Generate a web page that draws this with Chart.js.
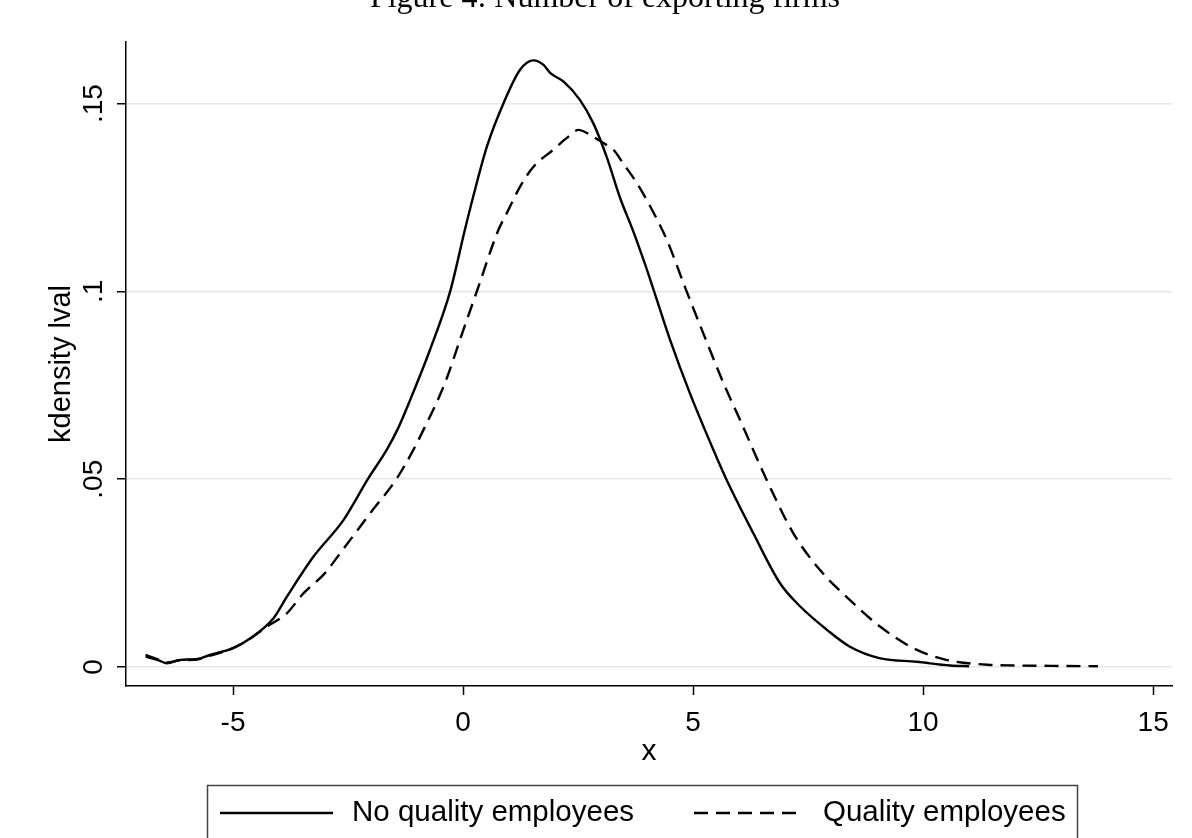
<!DOCTYPE html>
<html>
<head>
<meta charset="utf-8">
<title>Figure 4: Number of exporting firms</title>
<script src="https://cdn.jsdelivr.net/npm/chart.js@4/dist/chart.umd.min.js"></script>
<style>
  html, body { margin: 0; padding: 0; background: #fff; }
  canvas { display: block; }
</style>
</head>
<body>
<canvas id="kdensityChart" width="1192" height="838"></canvas>
<script>
/**
 * Kernel density of lval, firms with / without quality employees
 */

// Series: no quality employees (solid)
const xNoQuality = [-6.9, -6.6, -6.44, -6.15, -5.79, -5.5, -5.2, -5.0, -4.63, -4.12, -3.83, -3.25, -2.6, -2.06, -1.66, -1.41, -1.15, -0.72, -0.28, 0.04, 0.22, 0.52, 0.88, 1.24, 1.53, 1.75, 1.9, 2.18, 2.54, 2.83, 3.12, 3.41, 3.7, 3.92, 4.14, 4.5, 4.93, 5.41, 5.73, 6.31, 6.89, 7.33, 7.91, 8.41, 9.07, 9.86, 10.59, 11.0];
const yNoQuality = [0.0028, 0.0017, 0.0010, 0.0019, 0.0021, 0.0032, 0.0042, 0.0050, 0.0076, 0.0130, 0.0187, 0.0294, 0.0391, 0.0502, 0.0578, 0.0636, 0.0711, 0.0844, 0.1000, 0.1164, 0.1252, 0.1386, 0.1501, 0.1590, 0.1615, 0.1603, 0.1581, 0.1559, 0.1510, 0.1448, 0.1359, 0.1250, 0.1160, 0.1085, 0.1005, 0.0871, 0.0729, 0.0587, 0.0498, 0.0356, 0.0223, 0.0161, 0.0099, 0.0054, 0.0023, 0.0014, 0.0004, 0.0002];

// Series: quality employees (dashed)
const xQuality = [-6.9, -6.6, -6.44, -6.15, -5.79, -5.5, -5.0, -4.63, -4.27, -3.83, -3.47, -3.0, -2.67, -2.02, -1.44, -1.08, -0.79, -0.57, -0.35, -0.07, 0.3, 0.77, 0.95, 1.24, 1.53, 1.96, 2.25, 2.51, 2.76, 3.05, 3.27, 3.48, 3.78, 4.03, 4.43, 4.86, 5.22, 5.66, 6.02, 6.6, 7.18, 7.76, 8.41, 9.07, 9.79, 10.5, 11.4, 12.0, 12.8, 13.8];
const yQuality = [0.0032, 0.0019, 0.0012, 0.0018, 0.0020, 0.0030, 0.0050, 0.0075, 0.0107, 0.0143, 0.0196, 0.0250, 0.0303, 0.0409, 0.0502, 0.0578, 0.0649, 0.0705, 0.0770, 0.0870, 0.1000, 0.1164, 0.1208, 0.1279, 0.1332, 0.1377, 0.1408, 0.1430, 0.1417, 0.1395, 0.1377, 0.1341, 0.1288, 0.1235, 0.1137, 0.1000, 0.0889, 0.0756, 0.0658, 0.0498, 0.0356, 0.0258, 0.0178, 0.0107, 0.0050, 0.0019, 0.0006, 0.0004, 0.0003, 0.0002];

// Axis ticks
const xTickValues = [-5, 0, 5, 10, 15];
const yTickValues = [0, 0.05, 0.1, 0.15];
const yTickLabels = ['0', '.05', '.1', '.15'];

const seriesNames = ['No quality employees', 'Quality employees'];
const chartTitle = 'Figure 4: Number of exporting firms';

const FONT = "'Liberation Sans', Arial, sans-serif";
Chart.defaults.font.family = FONT;
Chart.defaults.color = '#000';

function toPoints(xs, ys) {
    return xs.map((x, i) => ({ x, y: ys[i] }));
}

/**
 * Title at top (mostly cropped in the original) and boxed legend at the bottom
 */
const decorPlugin = {
    id: 'decor',
    afterDraw(chart) {
        const ctx = chart.ctx;
        ctx.save();

        // title
        ctx.fillStyle = '#000';
        ctx.font = "32px 'Liberation Serif', 'DejaVu Serif', serif";
        ctx.textAlign = 'center';
        ctx.textBaseline = 'alphabetic';
        ctx.fillText(chartTitle, 605, 7);

        // legend box
        ctx.strokeStyle = '#444';
        ctx.lineWidth = 1.5;
        ctx.strokeRect(207.5, 785.5, 870, 90);

        const items = [
            { x0: 220, x1: 333, tx: 352 },
            { x0: 694, x1: 800, tx: 823 }
        ];
        const ly = 813;
        chart.data.datasets.forEach((ds, i) => {
            const it = items[i];
            ctx.strokeStyle = ds.borderColor;
            ctx.lineWidth = ds.borderWidth;
            ctx.setLineDash(ds.borderDash || []);
            ctx.beginPath();
            ctx.moveTo(it.x0, ly);
            ctx.lineTo(it.x1, ly);
            ctx.stroke();
            ctx.setLineDash([]);
            ctx.fillStyle = '#000';
            ctx.font = '29.5px ' + FONT;
            ctx.textAlign = 'left';
            ctx.textBaseline = 'middle';
            ctx.fillText(ds.label, it.tx, ly);
        });
        ctx.restore();
    }
};

function initChart() {
    const ctx = document.getElementById('kdensityChart').getContext('2d');

    new Chart(ctx, {
        type: 'line',
        data: {
            datasets: [
                {
                    label: seriesNames[0],
                    data: toPoints(xNoQuality, yNoQuality),
                    borderColor: '#000',
                    borderWidth: 2.4,
                    pointRadius: 0,
                    cubicInterpolationMode: 'monotone',
                    fill: false
                },
                {
                    label: seriesNames[1],
                    data: toPoints(xQuality, yQuality),
                    borderColor: '#000',
                    borderWidth: 2.4,
                    borderDash: [14, 8],
                    pointRadius: 0,
                    cubicInterpolationMode: 'monotone',
                    fill: false
                }
            ]
        },
        options: {
            responsive: false,
            animation: false,
            layout: {
                padding: { left: 0, top: 42, right: 20, bottom: 68 }
            },
            plugins: {
                legend: { display: false },
                tooltip: { enabled: false }
            },
            scales: {
                x: {
                    type: 'linear',
                    min: -7.326,
                    max: 15.41,
                    afterBuildTicks: (scale) => {
                        scale.ticks = xTickValues.map(v => ({ value: v }));
                    },
                    afterFit: (scale) => { scale.height = 84; },
                    ticks: {
                        font: { size: 28 },
                        padding: 11,
                        maxRotation: 0,
                        autoSkip: false
                    },
                    grid: {
                        drawOnChartArea: false,
                        tickLength: 9,
                        tickColor: '#000',
                        tickWidth: 1.5
                    },
                    border: { color: '#000', width: 1.5 },
                    title: {
                        display: true,
                        text: 'x',
                        font: { size: 30 },
                        padding: { top: 0, bottom: 0 }
                    }
                },
                y: {
                    type: 'linear',
                    min: -0.00506,
                    max: 0.1664,
                    afterBuildTicks: (scale) => {
                        scale.ticks = yTickValues.map(v => ({ value: v }));
                    },
                    afterFit: (scale) => { scale.width = 126; },
                    ticks: {
                        font: { size: 28 },
                        minRotation: 90,
                        maxRotation: 90,
                        crossAlign: 'center',
                        padding: 3,
                        autoSkip: false,
                        callback: (value) => {
                            const idx = yTickValues.findIndex(v => Math.abs(v - value) < 1e-9);
                            return idx >= 0 ? yTickLabels[idx] : '';
                        }
                    },
                    grid: {
                        color: '#e6e6e6',
                        lineWidth: 1.5,
                        tickLength: 9,
                        tickColor: '#000',
                        tickWidth: 1.5
                    },
                    border: { color: '#000', width: 1.5 },
                    title: {
                        display: true,
                        text: 'kdensity lval',
                        font: { size: 29 },
                        padding: { top: 45, bottom: 0 }
                    }
                }
            }
        },
        plugins: [decorPlugin]
    });
}

document.addEventListener('DOMContentLoaded', initChart);
</script>
</body>
</html>
